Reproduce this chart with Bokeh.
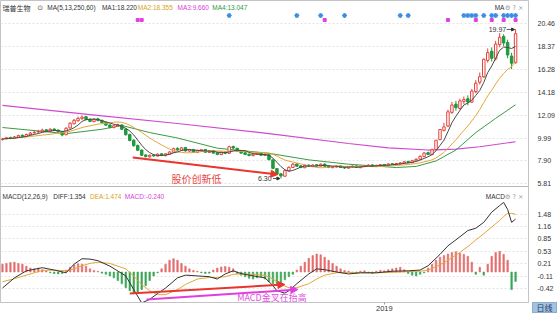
import pandas as pd
from bokeh.plotting import figure
from bokeh.layouts import column
from bokeh.models import (ColumnDataSource, Range1d, FixedTicker, CustomJSTickFormatter,
                          Span, Label, Arrow, NormalHead, Div)
from bokeh.embed import file_html
from bokeh.resources import INLINE

# ---------------- data ----------------
open_ = [9.85, 9.92, 10.05, 9.96, 10.08, 10.25, 10.14, 10.30, 10.48, 10.55,
         10.58, 10.75, 10.60, 10.82, 10.72, 10.60, 10.30, 10.92, 11.30, 11.58,
         11.78, 11.95, 11.72, 11.50, 11.75, 11.62, 11.42, 11.20, 10.95, 11.10,
         11.20, 10.82, 10.32, 9.80, 9.32, 8.90, 8.45, 8.28, 8.45, 8.35,
         8.55, 8.38, 8.52, 8.70, 9.05, 8.88, 9.12, 8.80, 8.95, 8.68,
         8.82, 8.95, 8.68, 8.85, 8.65, 8.48, 8.72, 8.60, 9.22, 9.06,
         8.82, 8.65, 8.52, 8.38, 8.50, 8.65, 8.40, 8.48, 8.00, 7.20,
         6.72, 6.50, 7.00, 7.30, 7.62, 7.45, 7.28, 7.52, 7.38, 7.55,
         7.43, 7.62, 7.45, 7.28, 7.34, 7.44, 7.32, 7.24, 7.35, 7.44,
         7.28, 7.38, 7.45, 7.54, 7.38, 7.48, 7.58, 7.48, 7.64, 7.58,
         7.64, 7.70, 7.85, 7.74, 7.90, 8.06, 8.30, 8.66, 8.48, 8.95,
         9.85, 10.70, 11.10, 12.35, 13.10, 12.70, 13.35, 13.60, 13.28, 14.25,
         15.10, 15.60, 17.10, 17.95, 17.25, 18.55, 19.30, 18.75, 17.50, 16.90]
close = [9.90, 10.02, 9.95, 10.10, 10.22, 10.15, 10.32, 10.45, 10.52, 10.60,
         10.72, 10.62, 10.80, 10.70, 10.58, 10.28, 10.90, 11.35, 11.62, 11.80,
         11.92, 11.70, 11.52, 11.72, 11.60, 11.40, 11.18, 10.98, 11.12, 11.22,
         10.80, 10.30, 9.78, 9.30, 8.88, 8.42, 8.30, 8.42, 8.36, 8.52,
         8.40, 8.55, 8.72, 9.02, 8.90, 9.10, 8.82, 8.92, 8.70, 8.84,
         8.92, 8.70, 8.82, 8.62, 8.50, 8.70, 8.60, 9.20, 9.08, 8.80,
         8.62, 8.50, 8.40, 8.52, 8.62, 8.42, 8.50, 8.02, 7.22, 6.70,
         6.52, 7.02, 7.32, 7.60, 7.42, 7.30, 7.50, 7.40, 7.52, 7.45,
         7.60, 7.42, 7.30, 7.36, 7.42, 7.30, 7.25, 7.36, 7.42, 7.30,
         7.40, 7.46, 7.52, 7.40, 7.50, 7.56, 7.50, 7.62, 7.60, 7.66,
         7.72, 7.82, 7.76, 7.92, 8.05, 8.32, 8.62, 8.50, 8.92, 9.80,
         10.78, 11.02, 12.40, 13.02, 12.78, 13.40, 13.52, 13.30, 14.30, 15.02,
         15.62, 17.20, 17.82, 17.30, 18.60, 19.22, 18.70, 17.60, 16.85, 19.55]
high = [10.00, 10.10, 10.12, 10.18, 10.30, 10.34, 10.40, 10.55, 10.64, 10.75,
        10.85, 10.80, 10.90, 10.88, 10.78, 10.64, 10.98, 11.45, 11.75, 11.95,
        12.05, 12.02, 11.80, 11.82, 11.85, 11.68, 11.48, 11.25, 11.20, 11.32,
        11.25, 10.88, 10.40, 9.88, 9.40, 8.95, 8.52, 8.50, 8.52, 8.60,
        8.62, 8.62, 8.80, 9.12, 9.15, 9.18, 9.16, 9.00, 9.00, 8.92,
        9.00, 8.98, 8.90, 8.88, 8.70, 8.78, 8.76, 9.30, 9.30, 9.10,
        8.86, 8.70, 8.56, 8.60, 8.70, 8.68, 8.58, 8.52, 8.02, 7.25,
        6.80, 7.10, 7.40, 7.70, 7.68, 7.50, 7.56, 7.58, 7.60, 7.60,
        7.68, 7.66, 7.48, 7.42, 7.48, 7.48, 7.36, 7.42, 7.48, 7.48,
        7.46, 7.52, 7.58, 7.58, 7.55, 7.62, 7.62, 7.68, 7.70, 7.72,
        7.80, 7.90, 7.92, 8.00, 8.15, 8.42, 8.72, 8.75, 9.02, 9.82,
        10.80, 11.40, 12.60, 13.30, 13.40, 13.60, 13.80, 13.90, 14.50, 15.30,
        16.00, 17.30, 18.20, 18.30, 18.90, 19.60, 19.50, 19.00, 17.80, 19.97]
low = [9.78, 9.88, 9.90, 9.92, 10.02, 10.10, 10.10, 10.26, 10.40, 10.48,
       10.52, 10.55, 10.56, 10.62, 10.50, 10.15, 10.25, 10.85, 11.25, 11.50,
       11.66, 11.62, 11.45, 11.44, 11.52, 11.32, 11.10, 10.88, 10.90, 11.02,
       10.72, 10.22, 9.70, 9.20, 8.80, 8.35, 8.22, 8.20, 8.28, 8.30,
       8.34, 8.32, 8.48, 8.66, 8.84, 8.82, 8.76, 8.74, 8.64, 8.62,
       8.76, 8.64, 8.62, 8.55, 8.42, 8.45, 8.52, 8.56, 9.00, 8.72,
       8.55, 8.44, 8.32, 8.34, 8.46, 8.36, 8.35, 7.95, 7.15, 6.62,
       6.30, 6.45, 6.95, 7.25, 7.36, 7.24, 7.24, 7.34, 7.35, 7.40,
       7.40, 7.36, 7.24, 7.24, 7.30, 7.25, 7.18, 7.20, 7.30, 7.26,
       7.25, 7.34, 7.42, 7.35, 7.35, 7.44, 7.45, 7.45, 7.55, 7.54,
       7.60, 7.66, 7.70, 7.70, 7.86, 8.00, 8.25, 8.42, 8.44, 8.90,
       9.80, 10.60, 11.00, 12.20, 12.50, 12.60, 13.10, 13.00, 13.20, 14.10,
       14.90, 15.50, 16.90, 17.00, 17.10, 18.30, 18.40, 17.30, 16.30, 16.80]

ma250_idx = [0, 22, 44, 67, 87, 97, 107, 114, 120, 129]
ma250_val = [12.98, 12.15, 11.33, 10.41, 9.50, 9.10, 8.90, 8.98, 9.20, 9.66]
ma60_idx = [0, 16, 25, 30, 37, 44, 54, 67, 77, 87, 99, 104, 109, 114, 119, 124, 129]
ma60_val = [10.96, 10.40, 10.80, 11.15, 10.50, 10.00, 9.07, 8.60, 8.00, 7.60,
            7.30, 7.40, 7.90, 8.90, 10.50, 11.80, 13.05]

macd_hist = [0.20, 0.22, 0.24, 0.25, 0.22, 0.20, 0.15, 0.10, 0.08, 0.10,
             0.06, 0.03, -0.02, -0.04, -0.05, -0.04, 0.05, 0.12, 0.18, 0.21,
             0.20, 0.15, 0.08, 0.04, 0.02, -0.03, -0.06, -0.10, -0.15, -0.22,
             -0.30, -0.40, -0.48, -0.54, -0.52, -0.45, -0.35, -0.22, -0.10, -0.02,
             0.08, 0.20, 0.30, 0.34, 0.30, 0.22, 0.15, 0.08, 0.04, 0.02,
             -0.02, -0.04, -0.03, 0.05, 0.10, 0.13, 0.14, 0.12, 0.08, -0.04,
             -0.08, -0.12, -0.16, -0.18, -0.15, -0.12, -0.18, -0.25, -0.30, -0.32,
             -0.28, -0.20, -0.12, -0.06, 0.05, 0.15, 0.25, 0.35, 0.42, 0.46,
             0.44, 0.38, 0.30, 0.22, 0.15, 0.08, 0.04, 0.02, -0.02, -0.03,
             0.02, 0.03, -0.02, -0.04, 0.02, 0.04, 0.03, 0.06, 0.08, 0.10,
             0.12, 0.06, -0.04, -0.08, -0.10, -0.06, -0.02, 0.10, 0.20, 0.30,
             0.38, 0.42, 0.46, 0.50, 0.52, 0.48, 0.45, 0.40, 0.25, -0.06,
             0.12, -0.08, 0.20, 0.40, 0.50, 0.53, 0.45, 0.30, -0.45, -0.24]
diff_idx = [0, 3, 6, 10, 13, 16, 18, 20, 22, 24, 27, 31, 33, 35, 37, 39, 41, 44, 46, 49,
            52, 54, 56, 58, 60, 63, 66, 68, 69, 71, 72, 74, 77, 79, 81, 84, 87, 90, 94, 98,
            102, 105, 107, 110, 112, 115, 117, 119, 121, 123, 125, 126, 127, 128, 129]
diff_val = [-0.41, -0.15, 0.03, 0.11, 0.05, -0.02, 0.20, 0.34, 0.33, 0.29, 0.15, -0.10, -0.45,
            -0.79, -0.70, -0.55, -0.41, -0.15, -0.08, -0.10, -0.12, -0.18, -0.05, 0.03, -0.04,
            -0.10, -0.15, -0.35, -0.48, -0.54, -0.48, -0.30, -0.05, 0.08, 0.06, 0.00, -0.05,
            -0.02, -0.02, 0.02, 0.03, 0.05, 0.16, 0.45, 0.67, 0.90, 1.06, 1.12, 1.27, 1.53,
            1.70, 1.78, 1.60, 1.27, 1.354]
dea_val = [-0.25, -0.17, -0.08, 0.04, 0.05, 0.03, 0.08, 0.16, 0.22, 0.25, 0.22, 0.08, -0.10,
           -0.32, -0.48, -0.58, -0.58, -0.45, -0.32, -0.18, -0.14, -0.14, -0.12, -0.06, -0.05,
           -0.06, -0.09, -0.18, -0.25, -0.36, -0.40, -0.40, -0.30, -0.18, -0.08, -0.02, -0.01,
           -0.02, -0.02, -0.01, 0.01, 0.02, 0.05, 0.18, 0.30, 0.50, 0.65, 0.82, 0.98, 1.15,
           1.32, 1.42, 1.50, 1.50, 1.474]

price_ticks = [5.81, 7.90, 9.99, 12.09, 14.18, 16.28, 18.37, 20.46]
macd_ticks = [1.48, 1.16, 0.85, 0.53, 0.21, -0.11, -0.42]
blue_signal_idx = [57, 74, 80, 86, 100, 102, 116, 117, 118, 119, 121, 123, 124, 126, 127, 128, 129]
pink_signal_idx = [34, 35, 81, 112, 119, 123, 126, 129]
year_tick_idx = [96]
year_tick_label = ["2019"]

# ---------------- layout helpers ----------------
W, H = 558, 314
FRAME_W, FRAME_H = 531, 302
PX_PER_BAR = 4.0
X0 = -0.5
X1 = X0 + FRAME_W / PX_PER_BAR
P_HI, P_LO = 22.59, -5.06          # price scale over full frame height
M_HI, M_LO = 6.944, -0.78          # MACD scale over full frame height


def px2x(px):
    return X0 + px / PX_PER_BAR


def py2y(py):
    return P_HI - py * (P_HI - P_LO) / FRAME_H


def m2p(v):
    return P_LO + (v - M_LO) / (M_HI - M_LO) * (P_HI - P_LO)


n = len(close)
idx = list(range(n))
s = pd.Series(close)
ma5 = s.rolling(5, min_periods=1).mean().tolist()
ma13 = s.rolling(13, min_periods=1).mean().tolist()

UP = "#e5423b"
DN = "#1f9a3c"
body_top = [max(o, c) for o, c in zip(open_, close)]
body_bot = [min(o, c) for o, c in zip(open_, close)]
is_up = [c >= o for o, c in zip(open_, close)]
candles = ColumnDataSource(dict(
    x=idx, high=high, low=low, top=body_top, bottom=body_bot,
    line=[UP if u else DN for u in is_up],
    fill=["#ffffff" if u else DN for u in is_up],
))
hist_src = ColumnDataSource(dict(
    x=idx, top=macd_hist,
    color=["#e46c6c" if v >= 0 else "#3aa655" for v in macd_hist],
))

p = figure(width=W, height=H, output_backend="svg", toolbar_location=None,
           x_range=Range1d(X0, X1), y_range=Range1d(P_LO, P_HI),
           y_axis_location="right",
           min_border_left=0, min_border_right=W - FRAME_W, min_border_top=0,
           min_border_bottom=H - FRAME_H)
p.extra_y_ranges = {"macd": Range1d(M_LO, M_HI)}
p.outline_line_color = "#c4c4c4"
p.background_fill_color = "#ffffff"
p.border_fill_color = "#ffffff"

# axes
yt = FixedTicker(ticks=price_ticks + [m2p(v) for v in macd_ticks])
p.yaxis.ticker = yt
p.yaxis.formatter = CustomJSTickFormatter(
    args=dict(sep=py2y(186), plo=P_LO, phi=P_HI, mlo=M_LO, mhi=M_HI),
    code="""
    if (tick < sep) {
        const v = mlo + (tick - plo) / (phi - plo) * (mhi - mlo);
        return v.toFixed(2);
    }
    return tick.toFixed(2);
    """)
p.yaxis.major_label_text_font_size = "7px"
p.yaxis.major_label_text_font = "Liberation Sans"
p.yaxis.major_label_text_color = "#333333"
p.yaxis.major_tick_line_color = None
p.yaxis.minor_tick_line_color = None
p.yaxis.axis_line_color = None
p.yaxis.major_label_standoff = 3

p.xaxis.ticker = FixedTicker(ticks=year_tick_idx)
p.xaxis.major_label_overrides = {i: t for i, t in zip(year_tick_idx, year_tick_label)}
p.xaxis.major_label_text_font_size = "7.5px"
p.xaxis.major_label_text_font = "Liberation Sans"
p.xaxis.major_label_text_color = "#333333"
p.xaxis.major_tick_out = 2
p.xaxis.major_tick_in = 0
p.xaxis.major_label_standoff = 1
p.xaxis.major_tick_line_color = "#999999"
p.xaxis.minor_tick_line_color = None
p.xaxis.axis_line_color = "#c4c4c4"

p.ygrid.ticker = yt
p.ygrid.grid_line_color = "#e4e4e4"
p.ygrid.grid_line_dash = "2 2"
p.xgrid.grid_line_color = None

# panel separator
p.add_layout(Span(location=py2y(186), dimension="width", line_color="#b8b8b8", line_width=1))

# ---------------- price panel ----------------
p.line(ma250_idx, ma250_val, line_color="#d149d1", line_width=1.2)
p.line(ma60_idx, ma60_val, line_color="#3a9a45", line_width=1)
p.segment(x0="x", y0="low", x1="x", y1="high", line_color="line", line_width=1, source=candles)
p.vbar(x="x", top="top", bottom="bottom", width=0.62, fill_color="fill",
       line_color="line", line_width=1, source=candles)
p.line(idx, ma13, line_color="#e3a53a", line_width=1)
p.line(idx, ma5, line_color="#4a4a4a", line_width=1)

p.scatter(blue_signal_idx, [py2y(15)] * len(blue_signal_idx), marker="asterisk",
          size=5, line_color="#3a8ee6", line_width=1.2)
p.scatter(pink_signal_idx, [py2y(19.5)] * len(pink_signal_idx), marker="square",
          size=3, fill_color="#e040e0", line_color="#e040e0")

# ---------------- MACD panel ----------------
p.vbar(x="x", top="top", bottom=0, width=0.38, fill_color="color", line_color="color",
       line_width=0.6, source=hist_src, y_range_name="macd")
p.line(diff_idx, dea_val, line_color="#e3a53a", line_width=1, y_range_name="macd")
p.line(diff_idx, diff_val, line_color="#333333", line_width=1, y_range_name="macd")

# ---------------- texts ----------------
SANS = "Liberation Sans"
CJK = "Noto Sans CJK SC"


def lab(px, py, text, color="#333333", size="6.5px", font=SANS, **kw):
    p.add_layout(Label(x=px2x(px), y=py2y(py), text=text, text_color=color,
                       text_font_size=size, text_font=font, text_baseline="middle",
                       text_align=kw.pop("align", "left"), **kw))


lab(2, 7, "瑞普生物", "#333333", "7px", CJK)
lab(37, 7, "⊙", "#555555", "7px", "DejaVu Sans")
lab(47, 7, "MA(5,13,250,60)", "#333333")
lab(102, 7, "MA1:18.220", "#333333")
lab(138, 7, "MA2:18.355", "#d9a21c")
lab(178, 7, "MA3:9.660", "#d93fd9")
lab(213, 7, "MA4:13.047", "#2e9a3e")
lab(497, 7, "MA", "#333333")
lab(507, 7, "⚙ ? ×", "#9a9a9a", "6.5px", "DejaVu Sans")

lab(2, 196, "MACD(12,26,9)", "#333333")
lab(53, 196, "DIFF:1.354", "#333333")
lab(90, 196, "DEA:1.474", "#d9a21c")
lab(125, 196, "MACD:-0.240", "#d93fd9")
lab(488, 196, "MACD", "#333333")
lab(507, 196, "⚙ ? ×", "#9a9a9a", "6.5px", "DejaVu Sans")

lab(491, 29, "19.97", "#333333", "7px")
p.add_layout(Arrow(end=NormalHead(size=3, fill_color="#333333", line_color="#333333"),
                   x_start=px2x(509), y_start=py2y(29), x_end=px2x(517), y_end=py2y(29),
                   line_color="#333333", line_width=0.8))
lab(259, 178, "6.30", "#333333", "7px")
p.add_layout(Arrow(end=NormalHead(size=3, fill_color="#333333", line_color="#333333"),
                   x_start=px2x(274), y_start=py2y(178), x_end=px2x(281), y_end=py2y(178),
                   line_color="#333333", line_width=0.8))

RED = "#e8352e"
MAG = "#df3fdf"
p.add_layout(Arrow(end=NormalHead(size=7, fill_color=RED, line_color=RED),
                   x_start=px2x(133), y_start=py2y(157), x_end=px2x(279), y_end=py2y(174),
                   line_color=RED, line_width=2))
lab(172, 178, "股价创新低", "#e84545", "10px", CJK)

p.add_layout(Arrow(end=NormalHead(size=7, fill_color=RED, line_color=RED),
                   x_start=px2x(130), y_start=py2y(293), x_end=px2x(286), y_end=py2y(284),
                   line_color=RED, line_width=2))
p.add_layout(Arrow(end=NormalHead(size=7, fill_color=MAG, line_color=MAG),
                   x_start=px2x(147), y_start=py2y(299), x_end=px2x(299), y_end=py2y(289),
                   line_color=MAG, line_width=2))
lab(238, 296.5, "MACD金叉在抬高", "#e050e0", "9px", CJK)

badge = Div(text="日线", width=25, height=11, margin=(0, 0, 0, 0),
            styles={"position": "absolute", "left": "532px", "top": "302px",
                    "background-color": "#a4c2e0", "color": "#1d3b66",
                    "font-size": "8px", "line-height": "10px", "text-align": "center",
                    "font-family": "Noto Sans CJK SC", "border": "1px solid #8aaed3",
                    "box-sizing": "border-box", "overflow": "hidden"})
layout = column(p, badge, spacing=0)

open("out.html", "w").write(file_html(layout, INLINE))
